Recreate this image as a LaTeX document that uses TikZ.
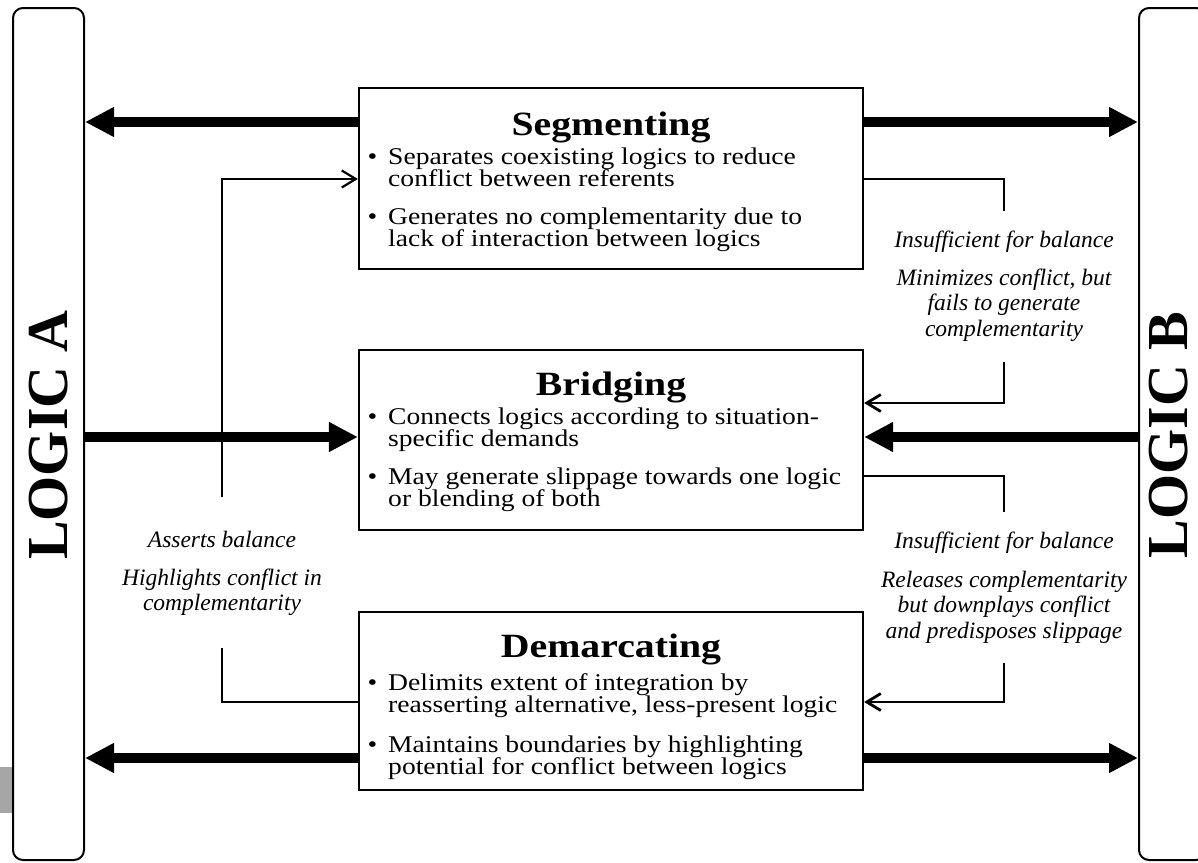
\documentclass[tikz,border=0pt]{standalone}
\usepackage{fontspec}
\setmainfont{Liberation Serif}
\newfontfamily\bodyfont[FakeStretch=1.15]{Liberation Serif}
\newfontfamily\headfont[FakeStretch=1.17]{Liberation Serif}
\usetikzlibrary{arrows.meta}

% two-line bullet item: baseline of the box is the first line
\newcommand{\bulletpair}[2]{\vtop{\lineskiplimit=-100pt\lineskip=0pt
  \hbox{\llap{\textbullet\hskip 11pt}#1}\hbox{#2}}}
% centred stack of lines, first line on the baseline
\newcommand{\stackc}[1]{\vtop{\lineskiplimit=-100pt\lineskip=0pt
  \halign{\hfil##\hfil\cr#1\crcr}}}

\tikzset{
  logicbox/.style={draw, line width=2pt, rounded corners=10pt, inner sep=0pt},
  stratbox/.style={draw, line width=2.2pt, fill=white, inner sep=0pt, minimum width=504pt},
  titletext/.style={font=\headfont\fontsize{34}{38}\selectfont\bfseries, inner sep=0pt, anchor=base},
  itemtext/.style={font=\bodyfont\fontsize{24}{22}\selectfont, inner sep=0pt, anchor=base west},
  notetext/.style={font=\fontsize{23.5}{25.5}\selectfont\itshape, inner sep=0pt, anchor=base},
  logictext/.style={font=\fontsize{58}{60}\selectfont\bfseries, rotate=90, inner sep=0pt},
  bigarrow/.style={line width=10pt, -{Triangle[length=29pt,width=28pt]}},
  thinline/.style={line width=2.2pt},
  thinarrow/.style={line width=2.2pt, -{Straight Barb[length=14pt,width=17pt]}},
  heavier/.style={line width=2.8pt},
}

\begin{document}
\begin{tikzpicture}[x=1pt, y=-1pt]
\useasboundingbox (0,0) rectangle (1198,862);
\clip (0,0) rectangle (1198,862);

% the two logics
\node[logicbox, minimum width=71pt, minimum height=852pt] (logicA) at (48.5,434) {};
\node[logicbox, minimum width=67pt, minimum height=852pt] (logicB) at (1172.5,434) {};
\node[logictext] (logicAText) at (49,435) {LOGIC A};
\node[logictext] (logicBText) at (1169,435) {LOGIC B};

% small grey tab on the left edge
\fill[black!35] (0,767) rectangle (12,813);

% strategy boxes
\node[stratbox, minimum height=181pt] (seg) at (611,178.5) {};
\node[stratbox, minimum height=180pt] (bri) at (611,440) {};
\node[stratbox, minimum height=178pt] (dem) at (611,701) {};

% rows used by the connectors
\coordinate (rowTop) at (0,122);
\coordinate (rowMid) at (0,437);
\coordinate (rowBot) at (0,758);
\coordinate (rowSegIn) at (0,179);
\coordinate (rowBriIn) at (0,403);
\coordinate (rowBriOut) at (0,476);
\coordinate (rowDem) at (0,702);

% heavy arrows between the logics and the strategies
\draw[bigarrow] (seg.west |- rowTop) -- (logicA.east |- rowTop);
\draw[bigarrow] (seg.east |- rowTop) -- (logicB.west |- rowTop);
\draw[bigarrow] (logicA.east |- rowMid) -- (bri.west |- rowMid);
\draw[bigarrow] (logicB.west |- rowMid) -- (bri.east |- rowMid);
\draw[bigarrow] (dem.west |- rowBot) -- (logicA.east |- rowBot);
\draw[bigarrow] (dem.east |- rowBot) -- (logicB.west |- rowBot);

% thin feedback connectors, left side
\coordinate (aTopEnd) at (222,497);
\coordinate (aBotEnd) at (222,648);
\draw[thinarrow] (aTopEnd) |- (seg.west |- rowSegIn);
\draw[thinline] (dem.west |- rowDem) -| (aBotEnd);

% thin feedback connectors, right side
\coordinate (bTopEnd) at (1004,211);
\coordinate (bTopStart) at (1004,362);
\coordinate (bMidEnd) at (1004,512);
\coordinate (bBotStart) at (1004,663);
\draw[thinline, heavier] (seg.east |- rowSegIn) -| (bTopEnd);
\draw[thinarrow, heavier] (bTopStart) |- (bri.east |- rowBriIn);
\draw[thinline, heavier] (bri.east |- rowBriOut) -| (bMidEnd);
\draw[thinarrow, heavier] (bBotStart) |- (dem.east |- rowDem);

% box contents
\node[titletext] (segT) at (611,135) {Segmenting};
\node[itemtext] (seg1) at (388,164) {\bulletpair{Separates coexisting logics to reduce}{conflict between referents}};
\node[itemtext] (seg2) at (388,224) {\bulletpair{Generates no complementarity due to}{lack of interaction between logics}};

\node[titletext] (briT) at (611,395) {Bridging};
\node[itemtext] (bri1) at (388,424) {\bulletpair{Connects logics according to situation-}{specific demands}};
\node[itemtext] (bri2) at (388,484) {\bulletpair{May generate slippage towards one logic}{or blending of both}};

\node[titletext] (demT) at (611,657) {Demarcating};
\node[itemtext] (dem1) at (388,690) {\bulletpair{Delimits extent of integration by}{reasserting alternative, less-present logic}};
\node[itemtext] (dem2) at (388,752) {\bulletpair{Maintains boundaries by highlighting}{potential for conflict between logics}};

% annotations
\node[notetext] (aNote) at (222,547) {Asserts balance};
\node[notetext] (aDesc) at (222,585) {\stackc{Highlights conflict in\cr complementarity}};
\node[notetext] (bNote1) at (1004,247) {Insufficient for balance};
\node[notetext] (bDesc1) at (1004,285) {\stackc{Minimizes conflict, but\cr fails to generate\cr complementarity}};
\node[notetext] (bNote2) at (1004,548) {Insufficient for balance};
\node[notetext] (bDesc2) at (1004,587) {\stackc{Releases complementarity\cr but downplays conflict\cr and predisposes slippage}};
\end{tikzpicture}
\end{document}
